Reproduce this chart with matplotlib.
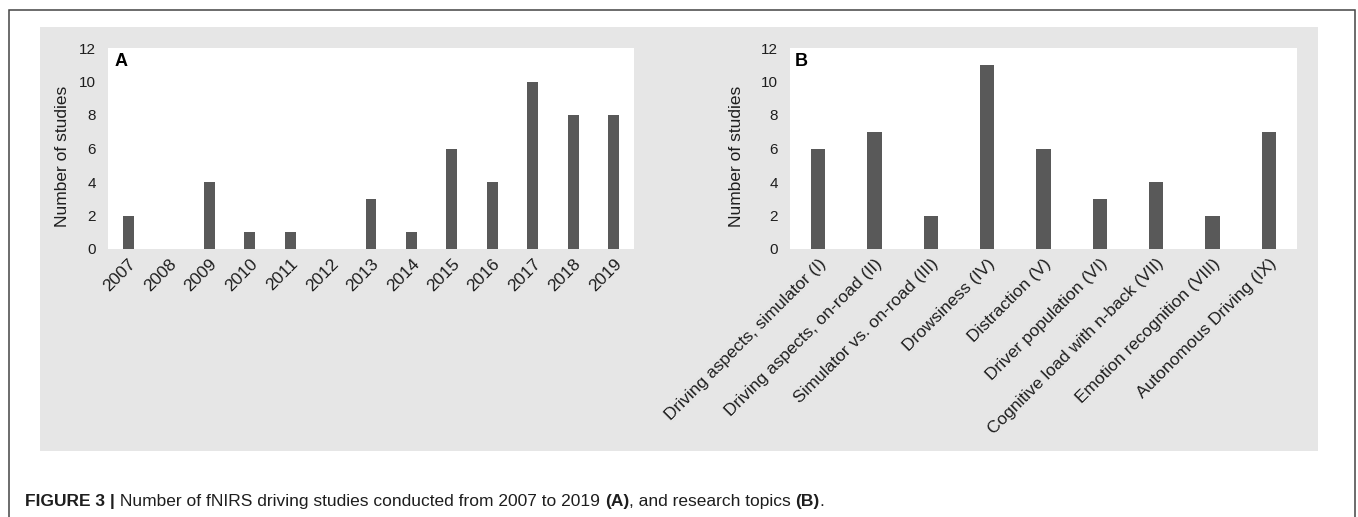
import matplotlib
matplotlib.use("Agg")
import matplotlib.pyplot as plt
from matplotlib.patches import Rectangle

# ---- data ----
years = ["2007", "2008", "2009", "2010", "2011", "2012", "2013",
         "2014", "2015", "2016", "2017", "2018", "2019"]
studies_per_year = [2, 0, 4, 1, 1, 0, 3, 1, 6, 4, 10, 8, 8]

topics = ["Driving aspects, simulator (I)", "Driving aspects, on-road (II)",
          "Simulator vs. on-road (III)", "Drowsiness (IV)", "Distraction (V)",
          "Driver population (VI)", "Cognitive load with n-back (VII)",
          "Emotion recognition (VIII)", "Autonomous Driving (IX)"]
studies_per_topic = [6, 7, 2, 11, 6, 3, 4, 2, 7]

y_ticks = [0, 2, 4, 6, 8, 10, 12]

W, H = 1358, 517
plt.rcParams['font.family'] = ['Liberation Sans', 'DejaVu Sans']
fig = plt.figure(figsize=(W / 100, H / 100), dpi=100)
fig.patch.set_facecolor('white')


def fx(px):
    return px / W


def fy(py):
    return 1 - py / H


# outer border (open at bottom)
fig.add_artist(Rectangle((fx(8.5), fy(530)), fx(1355) - fx(8.5), fy(9.5) - fy(530),
                         transform=fig.transFigure, facecolor='none',
                         edgecolor='#444444', lw=1.1, zorder=-2))
# gray panel
fig.add_artist(Rectangle((fx(40), fy(451)), fx(1318) - fx(40), fy(27) - fy(451),
                         transform=fig.transFigure, facecolor='#e6e6e6',
                         edgecolor='none', zorder=-1))

bar_color = '#595959'
txt_color = '#1e1e1e'


def make_axes(left, right, top, bottom, label_x):
    ax = fig.add_axes([fx(left), fy(bottom), fx(right) - fx(left), fy(top) - fy(bottom)])
    ax.set_facecolor('white')
    for s in ax.spines.values():
        s.set_visible(False)
    ax.tick_params(length=0, colors=txt_color)
    ax.tick_params(axis='y', labelsize=11, pad=8.5)
    ax.tick_params(axis='x', labelsize=12.5, pad=5)
    ax.set_ylim(0, 12)
    ax.set_yticks(y_ticks)
    ax.set_ylabel("Number of studies", fontsize=12.5, color=txt_color)
    ax.yaxis.set_label_coords(label_x, 0.46)
    return ax


axA = make_axes(108, 634, 48, 249, -0.072)
axA.bar(range(len(years)), studies_per_year, width=0.27, color=bar_color)
axA.set_xlim(-0.5, len(years) - 0.5)
axA.set_xticks(range(len(years)))
axA.set_xticklabels(years, rotation=45, ha='right', rotation_mode='anchor')
axA.text(0.013, 0.975, "A", transform=axA.transAxes, fontsize=13,
         fontweight='bold', va='top', ha='left', color='black')

axB = make_axes(790, 1297, 48, 249, -0.091)
axB.bar(range(len(topics)), studies_per_topic, width=0.25, color=bar_color)
axB.set_xlim(-0.5, len(topics) - 0.5)
axB.set_xticks(range(len(topics)))
axB.set_xticklabels(topics, rotation=45, ha='right', rotation_mode='anchor')
axB.text(0.01, 0.975, "B", transform=axB.transAxes, fontsize=13,
         fontweight='bold', va='top', ha='left', color='black')

# caption built from pieces
pieces = [("FIGURE 3 |", 'bold'),
          (" Number of fNIRS driving studies conducted from 2007 to 2019 ", 'normal'),
          ("(A)", 'bold'), (", and research topics ", 'normal'),
          ("(B)", 'bold'), (".", 'normal')]
renderer = fig.canvas.get_renderer()
x = fx(25)
for txt, wt in pieces:
    t = fig.text(x, fy(506), txt, fontsize=12.5, fontweight=wt, color=txt_color,
                 va='baseline', ha='left')
    bb = t.get_window_extent(renderer=renderer)
    x += bb.width / W

fig.savefig("out.png", dpi=100, facecolor='white')
